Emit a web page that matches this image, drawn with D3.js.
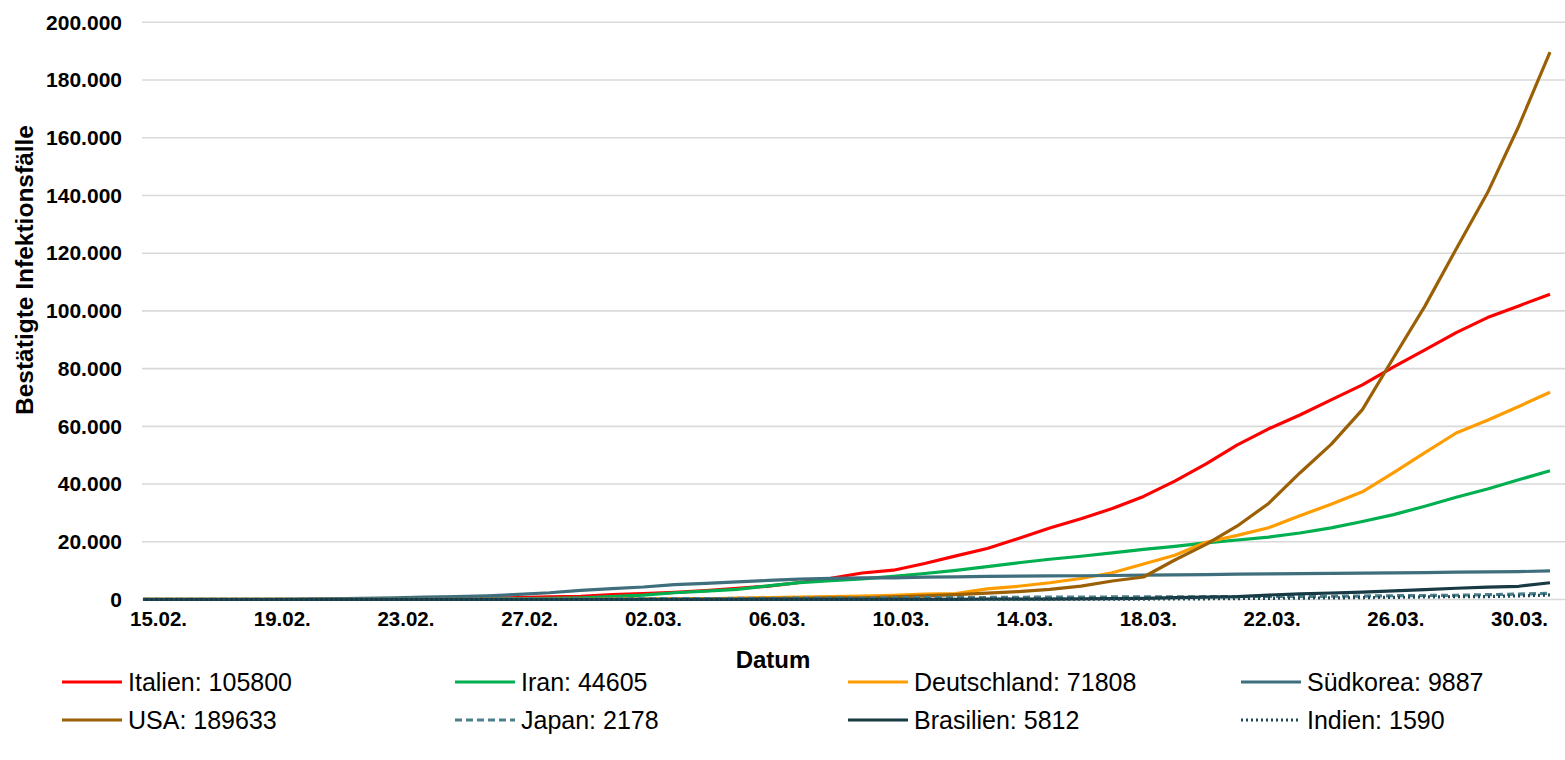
<!DOCTYPE html>
<html>
<head>
<meta charset="utf-8">
<script src="https://cdn.jsdelivr.net/npm/d3@7"></script>
<style>
  body { margin: 0; background: #fff; }
  svg { display: block; font-family: "Liberation Sans", Arial, sans-serif; }
</style>
</head>
<body>
<div id="chart"></div>
<script>
// tick labels of the x axis (every 4th day, starting 15.02.)
var dayLabels = ["15.02.", "19.02.", "23.02.", "27.02.", "02.03.", "06.03.",
                 "10.03.", "14.03.", "18.03.", "22.03.", "26.03.", "30.03."];
var yTicks = [0, 20000, 40000, 60000, 80000, 100000, 120000, 140000, 160000, 180000, 200000];

// confirmed cases, 15.02. - 31.03. (46 days)
var italien = [3,3,3,3,3,3,20,62,155,229,322,453,655,888,1128,
  1694,2036,2502,3089,3858,4636,5883,7375,9172,10149,12462,15113,17660,21157,24747,27980,
  31506,35713,41035,47021,53578,59138,63927,69176,74386,80589,86498,92472,97689,101739,105800];
var iran = [0,0,0,0,2,5,18,28,43,61,95,139,245,388,593,
  978,1501,2336,2922,3513,4747,5823,6566,7161,8042,9000,10075,11364,12729,13938,14991,
  16169,17361,18407,19644,20610,21638,23049,24811,27017,29406,32332,35408,38309,41495,44605];
var deutschland = [16,16,16,16,16,16,16,16,16,16,17,27,46,48,79,
  130,159,196,262,482,670,799,1040,1176,1457,1908,2078,3675,4585,5795,7272,
  9257,12327,15320,19848,22213,24873,29056,32986,37323,43938,50871,57695,62095,66885,71808];
var suedkorea = [28,29,30,31,31,104,204,433,602,833,977,1261,1766,2337,3150,
  3736,4335,5186,5621,6088,6593,7041,7314,7478,7513,7755,7869,7979,8086,8162,8236,
  8320,8413,8565,8652,8799,8897,8961,9037,9137,9241,9332,9478,9583,9661,9887];
var usa = [15,15,15,15,15,15,35,35,35,53,53,59,60,62,70,
  76,101,122,153,221,278,417,537,605,959,1281,1663,2179,2727,3499,4632,
  6421,7786,13680,19101,25493,33276,43847,53740,65778,83836,101657,121465,140909,164000,189633];
var japan = [43,59,66,74,84,94,105,122,147,159,170,189,214,228,241,
  256,274,293,331,360,420,461,502,511,581,639,639,701,773,839,825,
  878,889,924,963,1007,1086,1086,1128,1193,1307,1387,1468,1693,1866,2178];
var brasilien = [0,0,0,0,0,0,0,0,0,0,0,1,1,1,2,
  2,2,2,4,4,13,13,20,25,31,38,52,151,151,162,200,
  321,372,621,793,1021,1546,1924,2247,2554,2985,3417,3904,4256,4579,5812];
var indien = [3,3,3,3,3,3,3,3,3,3,3,3,3,3,3,
  3,5,5,28,30,31,34,39,43,56,62,73,82,102,113,119,
  142,156,194,244,330,396,499,536,657,727,887,987,1024,1251,1590];

var series = [
  {name: "Italien",     values: italien,     color: "#ff0000", dash: null},
  {name: "Iran",        values: iran,        color: "#00b050", dash: null},
  {name: "Deutschland", values: deutschland, color: "#ff9c00", dash: null},
  {name: "Südkorea",    values: suedkorea,   color: "#3f6f7c", dash: null},
  {name: "USA",         values: usa,         color: "#9b6005", dash: null},
  {name: "Japan",       values: japan,       color: "#4d7f8c", dash: "7,4"},
  {name: "Brasilien",   values: brasilien,   color: "#173a44", dash: null},
  {name: "Indien",      values: indien,      color: "#1f4a55", dash: "2,3"}
];

var W = 1565, H = 760;
var svg = d3.select("#chart").append("svg")
    .attr("width", W)
    .attr("height", H);

var x = d3.scaleLinear().domain([0, 45]).range([143, 1550]);
// labels sit slightly right of the data points in the original
var xLab = d3.scaleLinear().domain([0, 45]).range([158, 1550]);
var y = d3.scaleLinear().domain([0, 200000]).range([599.5, 22.3]);

var de = d3.formatLocale({decimal: ",", thousands: ".", grouping: [3], currency: ["", "€"]});
var fmt = de.format(",");

// gridlines
svg.append("g")
  .selectAll("line")
  .data(yTicks)
  .join("line")
    .attr("x1", 142).attr("x2", W)
    .attr("y1", d => y(d)).attr("y2", d => y(d))
    .attr("stroke", "#d9d9d9")
    .attr("stroke-width", 1.6);

// y axis labels
var yAxis = svg.append("g")
    .attr("transform", "translate(122,0)")
    .call(d3.axisLeft(y).tickValues(yTicks).tickFormat(fmt).tickSize(0).tickPadding(0));
yAxis.select(".domain").remove();
yAxis.selectAll("text")
    .style("font-size", "21px")
    .style("font-weight", "bold")
    .attr("fill", "#000");

// x axis labels
var xAxis = svg.append("g")
    .attr("transform", "translate(0,611)")
    .call(d3.axisBottom(xLab)
      .tickValues(d3.range(0, 45, 4))
      .tickFormat((d, i) => dayLabels[i])
      .tickSize(0).tickPadding(0));
xAxis.select(".domain").remove();
xAxis.selectAll("text")
    .style("font-size", "20.5px")
    .style("font-weight", "bold")
    .attr("fill", "#000");

// lines
var line = d3.line()
    .x((d, i) => x(i))
    .y(d => y(d));

svg.append("g")
  .selectAll("path")
  .data(series)
  .join("path")
    .attr("d", d => line(d.values))
    .attr("fill", "none")
    .attr("stroke", d => d.color)
    .attr("stroke-width", 3.2)
    .attr("stroke-linejoin", "round")
    .attr("stroke-dasharray", d => d.dash);

// axis titles
svg.append("text")
    .attr("transform", "translate(33,270) rotate(-90)")
    .attr("text-anchor", "middle")
    .style("font-size", "24.5px")
    .style("font-weight", "bold")
    .text("Bestätigte Infektionsfälle");

svg.append("text")
    .attr("x", 773)
    .attr("y", 668)
    .attr("text-anchor", "middle")
    .style("font-size", "24px")
    .style("font-weight", "bold")
    .text("Datum");

// legend, 2 rows x 4 columns
var legend = svg.append("g")
  .selectAll("g")
  .data(series)
  .join("g")
    .attr("transform", (d, i) => "translate(" + (62 + (i % 4) * 393) + "," + (682 + Math.floor(i / 4) * 38) + ")");

legend.append("line")
    .attr("x1", 0).attr("x2", 60)
    .attr("stroke", d => d.color)
    .attr("stroke-width", 3.2)
    .attr("stroke-dasharray", d => d.dash);

legend.append("text")
    .attr("x", 66)
    .attr("dy", "0.35em")
    .style("font-size", "25px")
    .text(d => d.name + ": " + d.values[d.values.length - 1]);
</script>
</body>
</html>
